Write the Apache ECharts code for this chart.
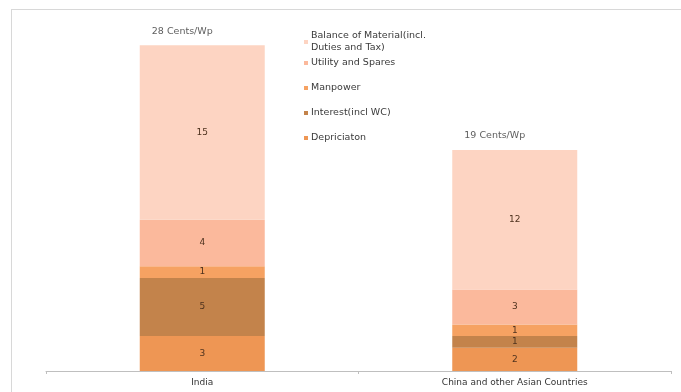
<!DOCTYPE html>
<html>
<head>
<meta charset="utf-8">
<script src="https://cdn.jsdelivr.net/npm/echarts@6/dist/echarts.min.js"></script>
<style>
  html, body { margin: 0; padding: 0; background: #fff; }
  #frame { position: absolute; left: 11px; top: 9px; width: 680px; height: 383px;
           border-left: 1px solid #d8d8d8; border-top: 1px solid #d8d8d8; box-sizing: border-box; }
  #chart { width: 681px; height: 392px; position: absolute; left: 0; top: 0; }
</style>
</head>
<body>
<div id="frame"></div>
<div id="chart"></div>
<script>
  const categories = ['India', 'China and other Asian Countries'];
  const depreciation = [3, 2];
  const interest = [5, 1];
  const manpower = [1, 1];
  const utility = [4, 3];
  const balance = [15, 12];
  const totals = [28, 19];
  const totalLabels = ['28 Cents/Wp', '19 Cents/Wp'];

  const names = {
    dep: 'Depriciaton',
    int: 'Interest(incl WC)',
    man: 'Manpower',
    util: 'Utility and Spares',
    bal: 'Balance of Material(incl.\nDuties and Tax)'
  };
  const colors = {
    dep: '#ee9654',
    int: '#c3834b',
    man: '#f6a262',
    util: '#fbb99c',
    bal: '#fdd4c2'
  };

  const font = '"DejaVu Sans", sans-serif';
  const segLabel = {
    show: true,
    position: 'inside',
    color: '#4e321e',
    fontSize: 9,
    fontFamily: font
  };

  function seg(key, data) {
    return {
      name: names[key],
      type: 'bar',
      stack: 'cost',
      barWidth: '40%',
      data: data,
      itemStyle: { color: colors[key] },
      label: segLabel
    };
  }

  const legendText = { color: '#3a3a3a', fontSize: 9.5, fontFamily: font, lineHeight: 12, padding: [0, 0, 0, -2] };

  let myChart = echarts.init(document.getElementById('chart'));
  myChart.setOption({
    animation: false,
    grid: { left: 46, right: 10, top: 22, bottom: 21 },
    legend: [
      {
        orient: 'vertical',
        left: 299,
        top: 25,
        itemWidth: 4,
        itemHeight: 4,
        itemGap: 3,
        icon: 'rect',
        textStyle: legendText,
        data: [names.bal, names.util]
      },
      {
        orient: 'vertical',
        left: 299,
        top: 77,
        itemWidth: 4,
        itemHeight: 4,
        itemGap: 13,
        icon: 'rect',
        textStyle: legendText,
        data: [names.man, names.int, names.dep]
      }
    ],
    xAxis: {
      type: 'category',
      data: categories,
      axisLine: { lineStyle: { color: '#bfbfbf', width: 1 } },
      axisTick: { show: true, alignWithLabel: false, length: 3, lineStyle: { color: '#bfbfbf' } },
      axisLabel: { color: '#333', fontSize: 9, fontFamily: font, margin: 7 }
    },
    yAxis: {
      type: 'value',
      min: 0,
      max: 30,
      show: false,
      splitLine: { show: false }
    },
    series: [
      seg('dep', depreciation),
      seg('int', interest),
      seg('man', manpower),
      seg('util', utility),
      seg('bal', balance),
      {
        name: 'totals',
        type: 'scatter',
        symbolSize: 0,
        data: totals,
        silent: true,
        label: {
          show: true,
          position: 'top',
          distance: 9,
          offset: [-20, 0],
          color: '#333',
          fontSize: 9.5,
          fontFamily: font,
          formatter: p => totalLabels[p.dataIndex]
        }
      }
    ]
  });
</script>
</body>
</html>
